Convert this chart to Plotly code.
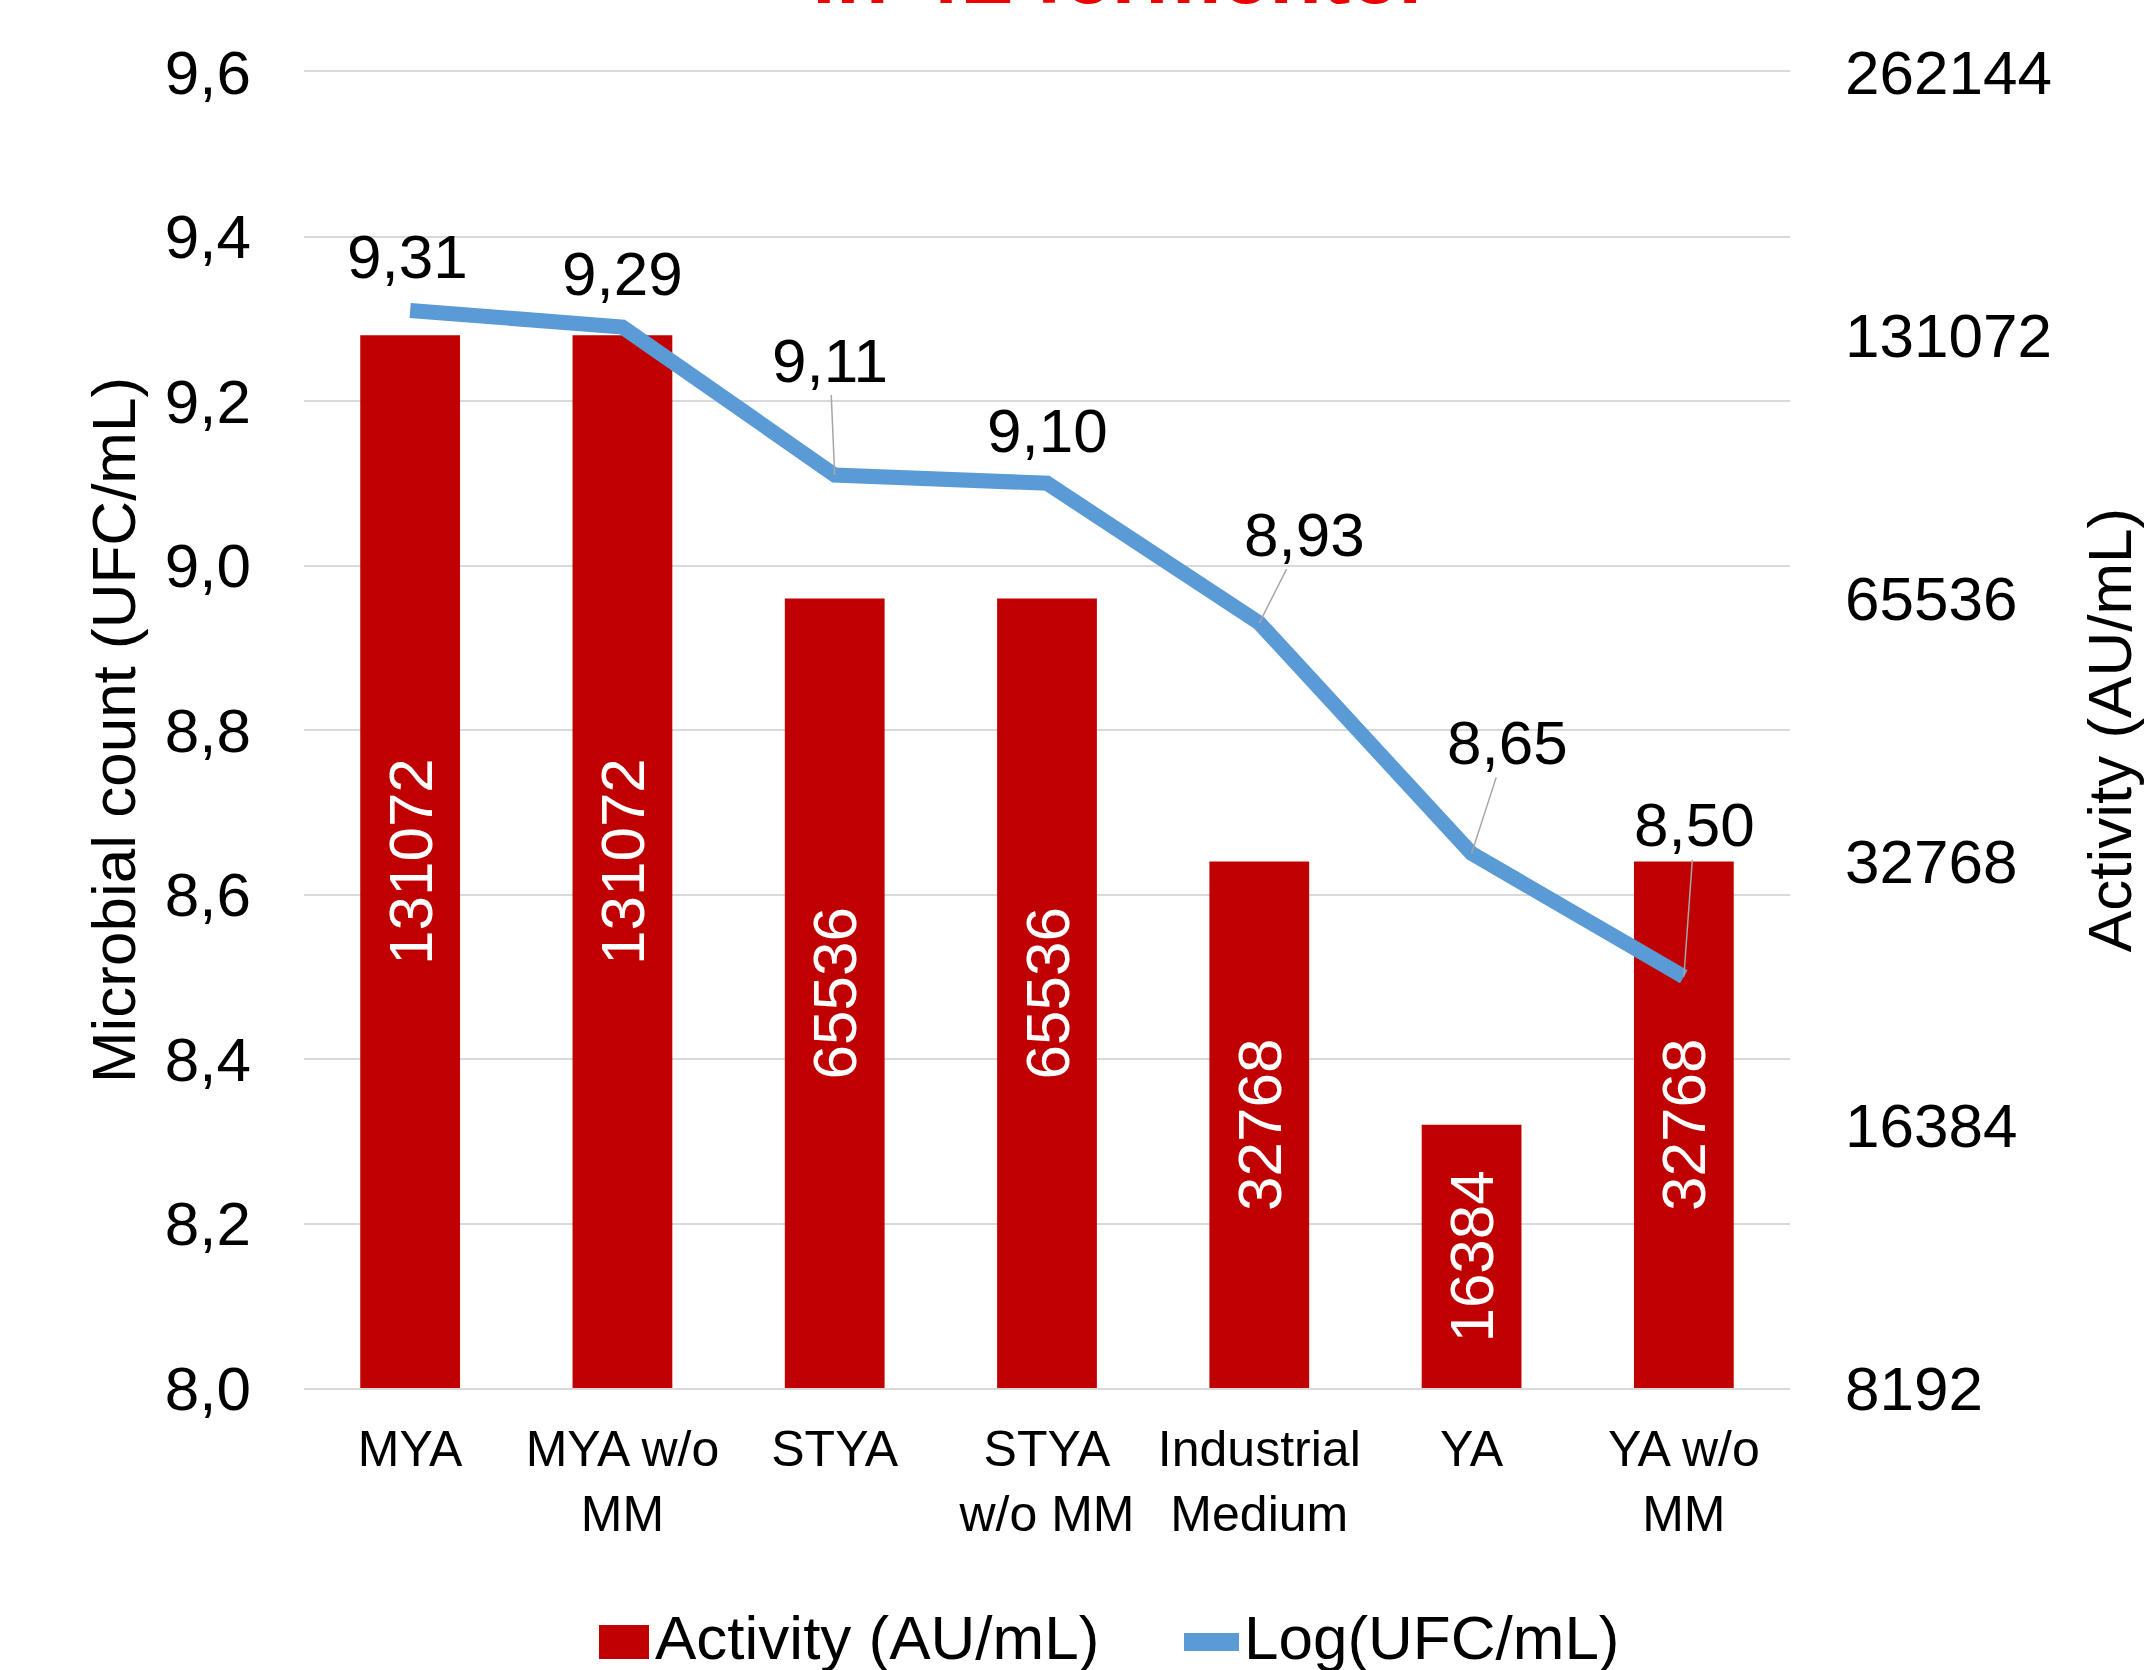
import math
import plotly.graph_objects as go

# ---------------- data ----------------
categories = ["MYA", "MYA w/o<br>MM", "STYA", "STYA<br>w/o MM", "Industrial<br>Medium", "YA", "YA w/o<br>MM"]
activity = [131072, 131072, 65536, 65536, 32768, 16384, 32768]          # AU/mL (right log2 axis)
log_ufc = [9.31, 9.29, 9.11, 9.10, 8.93, 8.65, 8.50]                   # Log(UFC/mL) (left axis)
log_ufc_labels = ["9,31", "9,29", "9,11", "9,10", "8,93", "8,65", "8,50"]
left_ticks = [8.0, 8.2, 8.4, 8.6, 8.8, 9.0, 9.2, 9.4, 9.6]
left_ticktext = ["8,0", "8,2", "8,4", "8,6", "8,8", "9,0", "9,2", "9,4", "9,6"]
right_ticks = [8192, 16384, 32768, 65536, 131072, 262144]
right_ticktext = ["8192", "16384", "32768", "65536", "131072", "262144"]
bar_name = "Activity (AU/mL)"
line_name = "Log(UFC/mL)"
title_text = "in 4L fermenter"

# ---------------- layout constants ----------------
W, H = 2149, 1670
L, R, T, B = 304, 1790, 72, 1388
FONT = "Liberation Sans, Arial, sans-serif"
BAR_COLOR = "#C00000"
LINE_COLOR = "#5B9BD5"
GRID = "#D9D9D9"


def px_x(px):
    return (px - L) / (R - L)


def px_y(py):
    return (B - py) / (B - T)


# label offsets (pixels) for each line data label: (dx, dy, leader line?)
label_offsets = [(-3, -54, False), (0, -53, False), (-5, -115, True), (0, -53, False),
                 (45, -89, True), (36, -111, True), (11, -152, True)]

base_val = right_ticks[0]

fig = go.Figure()
fig.add_trace(go.Bar(
    x=categories,
    y=[v - base_val for v in activity],
    base=base_val,
    yaxis="y",
    name=bar_name,
    marker=dict(color=BAR_COLOR, line=dict(width=0)),
    width=0.47,
    text=[str(v) for v in activity],
    textposition="inside",
    textangle=-90,
    insidetextanchor="middle",
    insidetextfont=dict(family=FONT, size=62, color="white"),
    cliponaxis=False,
    showlegend=False,
))
fig.add_trace(go.Scatter(
    x=categories,
    y=log_ufc,
    yaxis="y2",
    mode="lines",
    name=line_name,
    line=dict(color=LINE_COLOR, width=15),
    showlegend=False,
))

annotations = []
for cat, val, lab, (dx, dy, leader) in zip(categories, log_ufc, log_ufc_labels, label_offsets):
    annotations.append(dict(
        x=cat, y=val, xref="x", yref="y2",
        text=lab, showarrow=True, arrowhead=0, arrowwidth=1.5,
        arrowcolor="#A6A6A6" if leader else "rgba(0,0,0,0)",
        ax=dx, ay=dy, axref="pixel", ayref="pixel",
        font=dict(family=FONT, size=62, color="black"),
        borderpad=0,
    ))

# cut-off title fragment at the very top (as in the reference)
annotations.append(dict(
    x=px_x(1122), y=px_y(22), xref="paper", yref="paper",
    xanchor="center", yanchor="bottom", showarrow=False,
    text="<b>" + title_text + "</b>", borderpad=0,
    font=dict(family=FONT, size=86, color="#EE0000"),
))

# manual legend
annotations.append(dict(
    x=px_x(654), y=px_y(1638), xref="paper", yref="paper",
    xanchor="left", yanchor="middle", showarrow=False, text=bar_name, borderpad=0,
    font=dict(family=FONT, size=62, color="black"),
))
annotations.append(dict(
    x=px_x(1243), y=px_y(1638), xref="paper", yref="paper",
    xanchor="left", yanchor="middle", showarrow=False, text=line_name, borderpad=0,
    font=dict(family=FONT, size=62, color="black"),
))
shapes = [
    dict(type="rect", xref="paper", yref="paper",
         x0=px_x(599), x1=px_x(649), y0=px_y(1625), y1=px_y(1659),
         fillcolor=BAR_COLOR, line=dict(width=0)),
    dict(type="line", xref="paper", yref="paper",
         x0=px_x(1184), x1=px_x(1239), y0=px_y(1642), y1=px_y(1642),
         line=dict(color=LINE_COLOR, width=18)),
]

fig.update_layout(
    width=W, height=H,
    margin=dict(l=L, r=W - R, t=T, b=H - B, autoexpand=False),
    paper_bgcolor="white", plot_bgcolor="white",
    font=dict(family=FONT, color="black"),
    bargap=0.53,
    showlegend=False,
    xaxis=dict(
        type="category",
        showline=True, linecolor=GRID, linewidth=2, mirror=True,
        showgrid=False, ticks="",
        tickfont=dict(family=FONT, size=50, color="black"),
        ticklabelstandoff=16,
    ),
    yaxis=dict(
        type="log", side="right",
        range=[math.log10(right_ticks[0]), math.log10(right_ticks[-1])],
        tickvals=right_ticks, ticktext=right_ticktext,
        showgrid=False, zeroline=False, ticks="",
        tickfont=dict(family=FONT, size=62, color="black"),
        ticklabelstandoff=54,
        title=dict(text=bar_name, font=dict(family=FONT, size=62, color="black"), standoff=36),
    ),
    yaxis2=dict(
        overlaying="y", side="left",
        range=[left_ticks[0], left_ticks[-1]],
        tickvals=left_ticks, ticktext=left_ticktext,
        showgrid=True, gridcolor=GRID, gridwidth=2, zeroline=False, ticks="",
        tickfont=dict(family=FONT, size=62, color="black"),
        ticklabelstandoff=52,
        title=dict(text="Microbial count (UFC/mL)", font=dict(family=FONT, size=62, color="black"), standoff=9),
    ),
    annotations=annotations,
    shapes=shapes,
)

fig.write_html("out.html")
